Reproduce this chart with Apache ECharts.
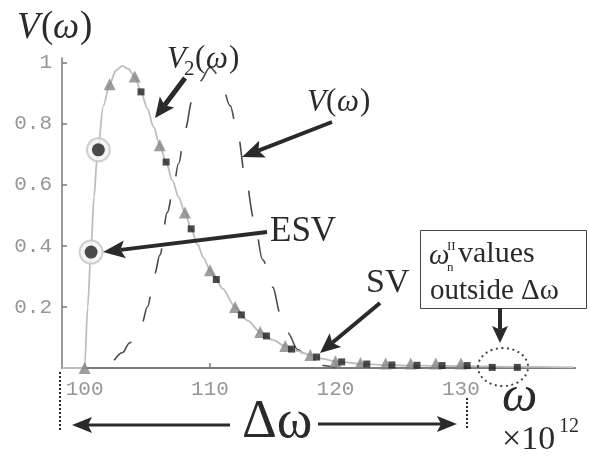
<!DOCTYPE html>
<html>
<head>
<meta charset="utf-8">
<script src="https://cdn.jsdelivr.net/npm/echarts@6/dist/echarts.min.js"></script>
<style>
  html, body { margin: 0; padding: 0; background: #fff; }
  #chart { width: 590px; height: 459px; }
</style>
</head>
<body>
<div id="chart"></div>
<script>
// Frequencies ω are in units of 10^12.

// Sampled points on V2(ω): triangles and squares
const triangleOmega = [100, 102, 104, 106, 108, 110, 112, 114, 116, 118, 120, 122, 124, 126, 128, 130];
const triangleV     = [0, 0.93, 0.955, 0.73, 0.51, 0.32, 0.2, 0.118, 0.072, 0.043, 0.022, 0.016, 0.015, 0.015, 0.015, 0.015];

const squareOmega = [104.5, 106.5, 108.5, 110.5, 112.5, 114.5, 116.5, 118.5, 120.5, 122.5, 124.5, 126.5, 128.5, 130.5, 132.5, 134.5];
const squareV     = [0.905, 0.675, 0.456, 0.29, 0.174, 0.105, 0.062, 0.036, 0.02, 0.013, 0.01, 0.009, 0.008, 0.008, 0.002, 0.002];

// ESV points on the rising edge
const esvOmega = [100.52, 101.1];
const esvV     = [0.38, 0.715];

// V2(ω) solid curve
const v2Omega  = [98.2, 100, 100.25, 100.5, 100.75, 101, 101.5, 102, 102.5, 103, 103.5, 104, 104.5, 105, 105.5, 106, 106.5, 107, 107.5, 108, 108.5, 109, 109.5, 110, 110.5, 111, 112, 113, 114, 115, 116, 117, 118, 119, 120, 122, 124, 126, 128, 130, 134, 139];
const v2Values = [0, 0, 0.2, 0.38, 0.56, 0.69, 0.86, 0.93, 0.975, 0.99, 0.98, 0.955, 0.905, 0.85, 0.79, 0.73, 0.675, 0.615, 0.56, 0.51, 0.456, 0.405, 0.36, 0.32, 0.29, 0.26, 0.2, 0.155, 0.118, 0.092, 0.072, 0.055, 0.043, 0.03, 0.022, 0.014, 0.01, 0.008, 0.007, 0.006, 0.004, 0.002];

// V(ω) dashed curve
const vOmega  = [101, 102, 103, 103.6, 104, 104.6, 105, 105.6, 106, 106.6, 107, 107.5, 108, 108.6, 109.2, 110, 110.8, 111.6, 112.2, 112.8, 113.5, 114.2, 115, 115.6, 116.2, 117, 118, 119, 120];
const vValues = [0, 0.016, 0.05, 0.082, 0.105, 0.15, 0.2, 0.31, 0.37, 0.51, 0.57, 0.67, 0.78, 0.88, 0.94, 0.985, 0.955, 0.86, 0.77, 0.63, 0.49, 0.355, 0.265, 0.18, 0.115, 0.06, 0.025, 0.008, 0];

// Axis ticks
const xTickValues = [100, 110, 120, 130];
const yTickValues = [0.2, 0.4, 0.6, 0.8, 1];

const zip = (xs, ys) => xs.map((x, i) => [x, ys[i]]);

const chart = echarts.init(document.getElementById('chart'), null, { renderer: 'canvas' });

const SERIF = '"Liberation Serif", "DejaVu Serif", serif';
const MONO = '"Liberation Mono", "DejaVu Sans Mono", monospace';
const INK = '#2a2a2a';

// Arrow with a slightly notched head, tail (x1,y1) -> tip (x2,y2)
function arrow(x1, y1, x2, y2, w, hl, hw) {
  const dx = x2 - x1, dy = y2 - y1, L = Math.hypot(dx, dy);
  const ux = dx / L, uy = dy / L, px = -uy, py = ux;
  const bx = x2 - ux * hl, by = y2 - uy * hl;
  const nx = x2 - ux * hl * 0.8, ny = y2 - uy * hl * 0.8;
  return [
    { type: 'line', silent: true, z: 50,
      shape: { x1: x1, y1: y1, x2: nx, y2: ny },
      style: { stroke: INK, lineWidth: w } },
    { type: 'polygon', silent: true, z: 50,
      shape: { points: [[x2, y2], [bx + px * hw, by + py * hw], [nx, ny], [bx - px * hw, by - py * hw]] },
      style: { fill: INK } }
  ];
}

function label(text, x, y, size, opts) {
  opts = opts || {};
  return {
    type: 'text', silent: true, z: 50, x: x, y: y,
    style: {
      text: text, fill: INK,
      font: (opts.italic ? 'italic ' : '') + size + 'px ' + SERIF,
      align: opts.align || 'left', verticalAlign: 'middle'
    }
  };
}

const graphics = [].concat(
  // y-axis title V(ω)
  label('V', 17, 28, 37, { italic: true }),
  label('(', 41, 27, 37),
  label('ω', 53, 28, 37, { italic: true }),
  label(')', 80, 27, 37),

  // V2(ω) label and arrow
  label('V', 167, 60, 31, { italic: true }),
  label('2', 184, 69, 21),
  label('(', 195, 59, 31),
  label('ω', 206, 60, 31, { italic: true }),
  label(')', 229, 59, 31),
  arrow(185, 78, 155, 118, 5, 20, 9),

  // V(ω) label and arrow
  label('V', 307, 103, 31, { italic: true }),
  label('(', 326, 102, 31),
  label('ω', 337, 103, 31, { italic: true }),
  label(')', 360, 102, 31),
  arrow(332, 122, 242, 157, 4, 22, 9),

  // ESV
  label('ESV', 270, 232, 35),
  arrow(267, 232, 103, 252, 4, 22, 9),

  // SV
  label('SV', 366, 283, 34),
  arrow(380, 303, 320, 353, 4, 20, 9),

  // Box about the out-of-band ω values
  { type: 'rect', silent: true, z: 50,
    shape: { x: 420.5, y: 230.5, width: 166, height: 78 },
    style: { fill: '#fff', stroke: '#444', lineWidth: 1 } },
  label('ω', 429, 256, 29, { italic: true }),
  label('II', 447, 247, 13),
  label('n', 447, 268, 13),
  label('values', 458, 254, 30),
  label('outside Δω', 430, 291, 29),
  arrow(500, 308, 500, 343, 4, 17, 8),

  // Dotted ring around the outside values
  { type: 'ellipse', silent: true, z: 50,
    shape: { cx: 503, cy: 367, rx: 25, ry: 19 },
    style: { fill: 'none', stroke: '#444', lineWidth: 2, lineDash: [2, 3.5] } },

  // Δω band
  { type: 'line', silent: true, z: 50,
    shape: { x1: 60, y1: 372, x2: 60, y2: 430 },
    style: { stroke: INK, lineWidth: 2, lineDash: [2, 2] } },
  { type: 'line', silent: true, z: 50,
    shape: { x1: 467, y1: 398, x2: 467, y2: 428 },
    style: { stroke: INK, lineWidth: 2, lineDash: [2, 2] } },
  arrow(230, 425, 72, 425, 3, 20, 8),
  arrow(318, 424, 457, 424, 3, 20, 8),
  label('Δω', 242, 423, 54),

  // ω axis name and scale
  label('ω', 502, 398, 50, { italic: true }),
  label('×10', 502, 440, 34),
  label('12', 559, 427, 20)
);

const option = {
  backgroundColor: '#fff',
  animation: false,
  grid: { left: 62, right: 15, top: 58, bottom: 91, containLabel: false },
  xAxis: {
    type: 'value', min: 98.2, max: 139.1,
    axisLine: { show: true, onZero: true, lineStyle: { color: '#7a7a7a', width: 2 } },
    axisTick: { show: true, inside: true, length: 5, customValues: xTickValues,
                lineStyle: { color: '#7a7a7a', width: 1.5 } },
    axisLabel: { customValues: xTickValues, margin: 11, color: '#969696',
                 fontFamily: MONO, fontSize: 21 },
    splitLine: { show: false }
  },
  yAxis: {
    type: 'value', min: 0, max: 1.016,
    axisLine: { show: true, lineStyle: { color: '#7a7a7a', width: 1.5 } },
    axisTick: { show: true, inside: true, length: 5, customValues: yTickValues,
                lineStyle: { color: '#7a7a7a', width: 1.5 } },
    axisLabel: { customValues: yTickValues, margin: 10, color: '#969696',
                 fontFamily: MONO, fontSize: 21,
                 formatter: v => (v === 1 ? '1' : v.toFixed(1)) },
    splitLine: { show: false }
  },
  series: [
    { name: 'V', type: 'line', data: zip(vOmega, vValues), showSymbol: false,
      smooth: 0.35, smoothMonotone: 'x', z: 2, clip: true,
      lineStyle: { color: '#4a4a4a', width: 1.6, type: [26, 24], dashOffset: 31 } },
    { name: 'V2', type: 'line', data: zip(v2Omega, v2Values), showSymbol: false,
      smooth: 0.3, smoothMonotone: 'x', z: 3,
      lineStyle: { color: '#bdbdbd', width: 1.8 } },
    { name: 'triangles', type: 'scatter', data: zip(triangleOmega, triangleV),
      symbol: 'triangle', symbolSize: 12, z: 4,
      itemStyle: { color: '#858585' } },
    { name: 'squares', type: 'scatter', data: zip(squareOmega, squareV),
      symbol: 'rect', symbolSize: 7, z: 5,
      itemStyle: { color: '#1f1f1f' } },
    { name: 'ESV halo', type: 'scatter', data: zip(esvOmega, esvV),
      symbol: 'circle', symbolSize: 23, z: 6,
      itemStyle: { color: '#f4f4f4', borderColor: '#c4c4c4', borderWidth: 2 } },
    { name: 'ESV', type: 'scatter', data: zip(esvOmega, esvV),
      symbol: 'circle', symbolSize: 13, z: 7,
      itemStyle: { color: '#1f1f1f' } }
  ],
  graphic: graphics
};

chart.setOption(option);
</script>
</body>
</html>
